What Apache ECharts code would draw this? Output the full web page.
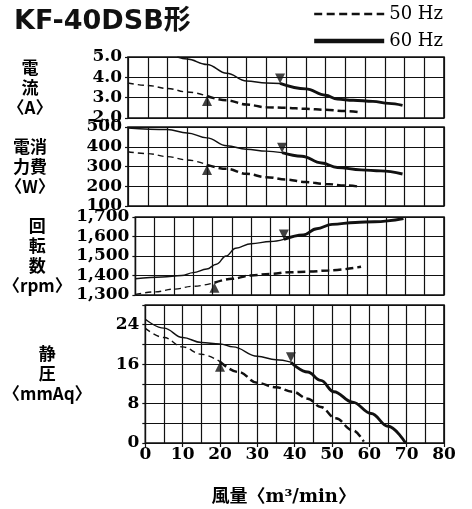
<!DOCTYPE html>
<html><head><meta charset="utf-8">
<script src="https://cdn.jsdelivr.net/npm/echarts@6/dist/echarts.min.js"></script>
<style>html,body{margin:0;padding:0;background:#fff}#c{width:472px;height:509px}</style>
</head><body><div id="c"></div>
<script>
// ---- data ----
// x = 風量 (m3/min)
const current50 = [[0,3.72],[5,3.6],[10,3.45],[15,3.28],[20,3.08],[25,2.87],[30,2.66],[35,2.53],[40,2.5],[45,2.45],[50,2.4],[55,2.34],[58.5,2.28]];
const current60 = [[12.5,5.0],[15,4.9],[20,4.63],[25,4.2],[30,3.82],[35,3.72],[38.5,3.7],[45,3.43],[50,3.12],[53,2.93],[57,2.87],[62,2.82],[66,2.72],[69.5,2.62]];
const power50 = [[0,375],[5,365],[10,350],[15,333],[20,308],[25,288],[30,263],[35,246],[40,234],[45,221],[50,212],[55,204],[58.5,198]];
const power60 = [[0,495],[10,487],[15,470],[20,445],[25,405],[30,387],[35,378],[39,370],[44,352],[49,318],[53,295],[59,283],[64,278],[69.5,262]];
const rpm50 = [[0,1303],[5,1316],[10,1330],[15,1345],[20.5,1363],[25,1383],[30,1400],[35,1408],[40,1417],[45,1420],[50,1426],[58.5,1445]];
const rpm60 = [[0,1383],[7,1392],[12,1400],[15,1415],[18.5,1433],[21,1458],[23.5,1500],[26,1540],[30,1563],[35,1574],[38.5,1585],[43.5,1608],[47,1640],[51,1662],[57,1672],[62,1676],[69.5,1692]];
const pressure50 = [[0,23.3],[5,21.4],[10,19.5],[15,18.0],[20,16.5],[25,14.4],[30,12.2],[35,11.3],[39.5,10.4],[43.5,9.0],[47,7.3],[51,5.0],[55.5,2.6],[58.5,0.3]];
const pressure60 = [[0,25.1],[5,23.3],[10,21.4],[15,20.4],[20,20.1],[23.5,19.5],[30,17.6],[35,16.9],[39,16.4],[43.5,14.4],[47,12.7],[50.5,10.4],[55.5,8.3],[60.5,6.0],[65,3.4],[69.7,0]];
// operating-point markers (▲ 50Hz, ▼ 60Hz)
const mark50 = [[20,3.08],[20,308],[20.5,1363],[20,16.5]];
const mark60 = [[38.5,3.7],[39,370],[38.5,1585],[39,16.4]];
const panelNames = ['電\n流\n〈A〉','電消\n力費\n〈W〉','回\n転\n数\n〈rpm〉','静\n圧\n〈mmAq〉'];
const yRanges = [[2,5,1],[100,500,100],[1300,1700,100],[0,28,4]];
const legendNames = ['50 Hz','60 Hz'];
const xTitle = '風量〈m³/min〉';
const title = 'KF-40DSB形';

// ---- chart ----
const data50 = [current50, power50, rpm50, pressure50];
const data60 = [current60, power60, rpm60, pressure60];
const gridPos = [
  {top:57, height:61},{top:127, height:79},{top:217, height:78},{top:305, height:138}
];
const namePad = [[0,0,9,0],[11,0,0,0],[0,0,0,0],[14,0,0,0]];
const ink = '#111';
const numFont = "'DejaVu Serif', serif";
const cjkFont = "'Noto Sans CJK JP', sans-serif";

function splitAt(pts, x){ return [pts.filter(p=>p[0]<=x), pts.filter(p=>p[0]>=x)]; }
function fmtY(i, v){
  if(i===0) return v.toFixed(1);
  if(i===2) return String(v).replace(/(\d)(\d{3})$/, '$1,$2');
  if(i===3) return v%8===0 ? String(v) : '';
  return String(v);
}

const grid = [], xAxis = [], yAxis = [], series = [];
for(let i=0;i<4;i++){
  grid.push({left:128, width:316, top:gridPos[i].top, height:gridPos[i].height,
    show:true, borderColor:ink, borderWidth:1.6, backgroundColor:'transparent'});
  const last = i===3;
  xAxis.push({type:'value', gridIndex:i, min:0, max:80, interval:10,
    axisLine:{show:false},
    axisTick:{show:last, length:4, lineStyle:{color:ink,width:1.2}},
    minorTick:{show:false, splitNumber:2},
    minorSplitLine:{show:true, lineStyle:{color:ink,width:1.2}},
    splitLine:{show:true, lineStyle:{color:ink,width:1.2}},
    axisLabel:{show:last, margin:3, color:'#000', fontFamily:numFont, fontWeight:'bold', fontSize:17},
    name: last ? xTitle : '', nameLocation:'middle', nameGap:45,
    nameTextStyle:{color:'#000', fontFamily:"'DejaVu Serif','Noto Sans CJK JP',serif", fontWeight:'bold', fontSize:18, padding:[0,22,0,0]}
  });
  const r = yRanges[i];
  yAxis.push({type:'value', gridIndex:i, min:r[0], max:r[1], interval:r[2],
    axisLine:{show:false},
    axisTick:{show:true, length:3, lineStyle:{color:ink,width:1.2}},
    splitLine:{show:true, lineStyle:{color:ink,width:1.2}},
    axisLabel:{margin:6, color:'#000', fontFamily:numFont, fontWeight:'bold', fontSize:17,
      formatter:(v)=>fmtY(i,v)},
    name:panelNames[i], nameLocation:'middle', nameRotate:0, nameGap:98, nameMoveOverlap:false,
    nameTextStyle:{align:'center', verticalAlign:'middle', color:'#000', fontFamily:cjkFont,
      fontWeight:'bold', fontSize:17, lineHeight:20, padding:namePad[i]}
  });
  const s50 = splitAt(data50[i], mark50[i][0]);
  const s60 = splitAt(data60[i], mark60[i][0]);
  const common = {type:'line', xAxisIndex:i, yAxisIndex:i, symbol:'none', smooth:0.4,
    smoothMonotone:'x', silent:true, z:3, itemStyle:{color:ink}};
  series.push(Object.assign({}, common, {name:legendNames[0], data:s50[1],
    lineStyle:{color:ink, width:2.5, type:[8,4]}}));
  series.push(Object.assign({}, common, {name:legendNames[1], data:s60[1],
    lineStyle:{color:ink, width:2.9, type:'solid'}}));
  series.push(Object.assign({}, common, {name:legendNames[0], data:s50[0],
    lineStyle:{color:ink, width:1.4, type:[6,4]}}));
  series.push(Object.assign({}, common, {name:legendNames[1], data:s60[0],
    lineStyle:{color:ink, width:1.4, type:'solid'}}));
  series.push({type:'scatter', name:'m50_'+i, xAxisIndex:i, yAxisIndex:i, data:[mark50[i]],
    symbol:'triangle', symbolSize:[10,10], symbolOffset:[0,5], silent:true, z:4,
    itemStyle:{color:ink}});
  series.push({type:'scatter', name:'m60_'+i, xAxisIndex:i, yAxisIndex:i, data:[mark60[i]],
    symbol:'triangle', symbolSize:[10,10], symbolRotate:180, symbolOffset:[0,-5], silent:true, z:4,
    itemStyle:{color:ink}});
}

const chart = echarts.init(document.getElementById('c'), null, {renderer:'canvas'});
chart.setOption({
  animation:false,
  backgroundColor:'#fff',
  title:{text:title, left:14, top:8, padding:0,
    textStyle:{fontFamily:"'DejaVu Sans','Noto Sans CJK JP',sans-serif", fontWeight:'bold', fontSize:27, color:'#111'}},
  legend:{
    data:[
      {name:legendNames[0], lineStyle:{width:2.4, type:[8,4.5]}},
      {name:legendNames[1], lineStyle:{width:4.5}}
    ],
    orient:'vertical', right:29, top:5, padding:0, itemGap:9,
    itemWidth:70, itemHeight:14, selectedMode:false,
    itemStyle:{color:'transparent', borderWidth:0, opacity:0},
    textStyle:{fontFamily:"'DejaVu Serif',serif", fontSize:18, color:'#000'}},
  grid, xAxis, yAxis, series
});
</script></body></html>
